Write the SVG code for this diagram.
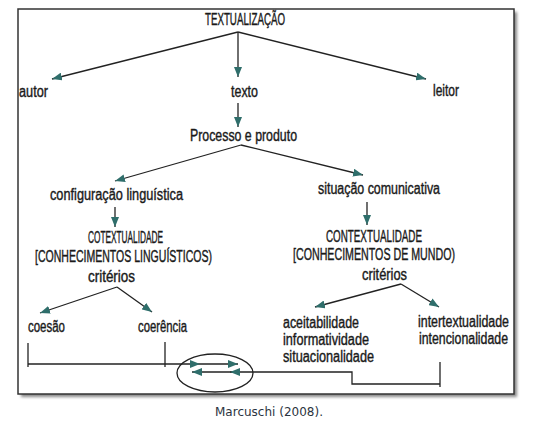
<svg xmlns="http://www.w3.org/2000/svg" width="552" height="429" viewBox="0 0 552 429">
<defs>
<marker id="ah" viewBox="0 0 10 8" refX="10" refY="4" markerWidth="10" markerHeight="8" markerUnits="userSpaceOnUse" orient="auto">
<path d="M0,0 L10,4 L0,8 z" fill="#2f6e6b"/>
</marker>
<filter id="sh" x="-5%" y="-5%" width="110%" height="110%">
<feGaussianBlur stdDeviation="1.5"/>
</filter>
</defs>
<style>
.t{font-family:"Liberation Sans",Arial,sans-serif;font-size:16px;fill:#1a1a1a;stroke:#1a1a1a;stroke-width:0.4}
.c{stroke:#222;stroke-width:1.3;fill:none}
.a{marker-end:url(#ah)}
.cap{font-family:"DejaVu Sans",Verdana,sans-serif;font-size:11.5px;fill:#2b3440}
</style>
<rect width="552" height="429" fill="#fff"/>
<rect x="21" y="12" width="496" height="385" fill="#888" filter="url(#sh)"/>
<rect x="18" y="9" width="496" height="385" fill="#fff" stroke="#333" stroke-width="1.5"/>

<g id="connectors">
<line class="c a" x1="238" y1="32" x2="52" y2="79"/>
<line class="c a" x1="238" y1="32" x2="238" y2="77"/>
<line class="c a" x1="238" y1="32" x2="426" y2="79"/>
<line class="c a" x1="238" y1="103" x2="238" y2="127"/>
<line class="c a" x1="241" y1="145" x2="115" y2="181"/>
<line class="c a" x1="241" y1="145" x2="363" y2="175"/>
<line class="c a" x1="115" y1="207" x2="115" y2="227"/>
<line class="c a" x1="367" y1="202" x2="367" y2="225"/>
<line class="c a" x1="117" y1="287" x2="40" y2="313"/>
<line class="c a" x1="117" y1="287" x2="152" y2="312"/>
<line class="c a" x1="401" y1="284" x2="315" y2="307"/>
<line class="c a" x1="401" y1="284" x2="439" y2="307"/>
<line class="c" x1="28" y1="343" x2="28" y2="367"/>
<line class="c" x1="165" y1="342" x2="165" y2="367"/>
<line class="c" x1="440" y1="362" x2="440" y2="387"/>
<line class="c a" x1="28" y1="364" x2="200" y2="364"/>
<line class="c a" x1="200" y1="364" x2="238" y2="364"/>
<polyline class="c" points="440,384 352,384 352,372 230,372"/>
<line class="c a" x1="240" y1="372" x2="230" y2="372"/>
<line class="c a" x1="230" y1="372" x2="192" y2="372"/>
<ellipse class="c" cx="215" cy="373" rx="38" ry="19"/>
</g>

<g id="textualizacao"><text class="t" x="205" y="25" textLength="80" lengthAdjust="spacingAndGlyphs">TEXTUALIZAÇÃO</text></g>
<g id="autor"><text class="t" x="19" y="97" textLength="29" lengthAdjust="spacingAndGlyphs">autor</text></g>
<g id="texto"><text class="t" x="231" y="97" textLength="27" lengthAdjust="spacingAndGlyphs">texto</text></g>
<g id="leitor"><text class="t" x="433" y="96" textLength="26" lengthAdjust="spacingAndGlyphs">leitor</text></g>
<g id="processo"><text class="t" x="190" y="141" textLength="107" lengthAdjust="spacingAndGlyphs">Processo e produto</text></g>
<g id="configuracao"><text class="t" x="50" y="200" textLength="133" lengthAdjust="spacingAndGlyphs">configuração linguística</text></g>
<g id="situacao"><text class="t" x="318" y="194" textLength="122" lengthAdjust="spacingAndGlyphs">situação comunicativa</text></g>
<g id="cotextualidade">
<text class="t" x="88" y="243" textLength="75" lengthAdjust="spacingAndGlyphs">COTEXTUALIDADE</text>
<text class="t" x="35" y="262" textLength="177" lengthAdjust="spacingAndGlyphs">[CONHECIMENTOS LINGUÍSTICOS)</text>
</g>
<g id="contextualidade">
<text class="t" x="326" y="242" textLength="96" lengthAdjust="spacingAndGlyphs">CONTEXTUALIDADE</text>
<text class="t" x="293" y="260" textLength="162" lengthAdjust="spacingAndGlyphs">[CONHECIMENTOS DE MUNDO)</text>
</g>
<g id="criterios-left"><text class="t" x="88" y="282" textLength="47" lengthAdjust="spacingAndGlyphs">critérios</text></g>
<g id="criterios-right"><text class="t" x="362" y="280" textLength="45" lengthAdjust="spacingAndGlyphs">critérios</text></g>
<g id="coesao"><text class="t" x="28" y="332" textLength="37" lengthAdjust="spacingAndGlyphs">coesão</text></g>
<g id="coerencia"><text class="t" x="138" y="332" textLength="49" lengthAdjust="spacingAndGlyphs">coerência</text></g>
<g id="aceitabilidade">
<text class="t" x="283" y="328" textLength="76" lengthAdjust="spacingAndGlyphs">aceitabilidade</text>
<text class="t" x="283" y="345" textLength="86" lengthAdjust="spacingAndGlyphs">informatividade</text>
<text class="t" x="283" y="362" textLength="91" lengthAdjust="spacingAndGlyphs">situacionalidade</text>
</g>
<g id="intertextualidade">
<text class="t" x="418" y="327" textLength="91" lengthAdjust="spacingAndGlyphs">intertextualidade</text>
<text class="t" x="419" y="344" textLength="89" lengthAdjust="spacingAndGlyphs">intencionalidade</text>
</g>
<g id="caption"><text class="cap" x="215" y="416" textLength="108" lengthAdjust="spacingAndGlyphs">Marcuschi (2008).</text></g>
</svg>
